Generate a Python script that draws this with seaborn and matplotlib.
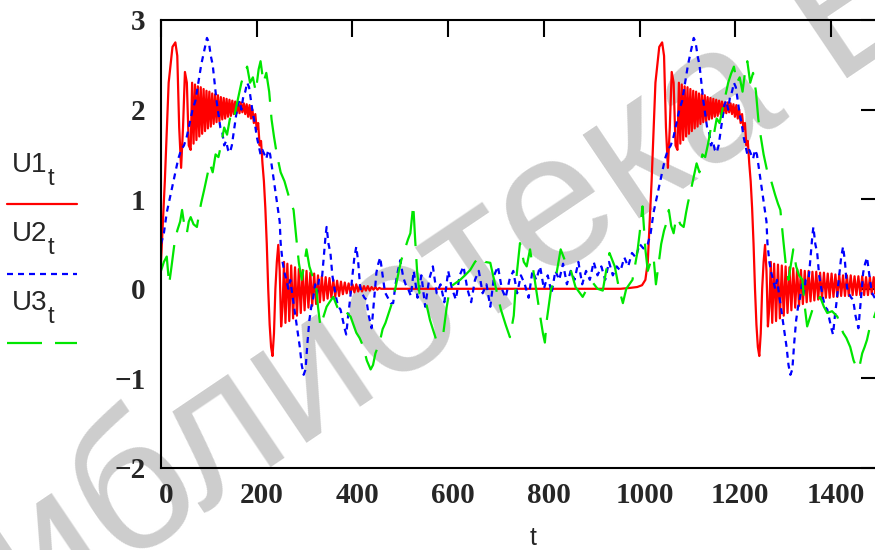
import matplotlib
matplotlib.use("Agg")
import matplotlib.pyplot as plt
from matplotlib.lines import Line2D
from matplotlib.transforms import ScaledTranslation
import pandas as pd
import seaborn as sns

# (t, value) pairs
U1_POINTS = [
    (0, 0.3), (8, 1.2), (16, 2.3), (24, 2.7), (30, 2.75), (34, 2.6), (38, 1.8), (42, 1.35), (46, 1.8),
    (50, 2.42), (54, 2.3), (58, 1.6), (62, 1.55),
    (65, 2.3), (68, 1.62), (71, 2.28), (74, 1.66), (77, 2.26), (80, 1.7), (83, 2.25), (86, 1.73),
    (89, 2.23), (92, 1.76), (95, 2.21), (98, 1.79), (101, 2.2), (104, 1.81), (107, 2.18), (110, 1.84),
    (113, 2.17), (116, 1.86), (119, 2.16), (122, 1.87), (125, 2.14), (128, 1.89), (131, 2.13), (134, 1.9),
    (137, 2.12), (140, 1.92), (143, 2.11), (146, 1.93), (149, 2.1), (152, 1.95), (155, 2.09), (158, 1.96),
    (161, 2.08), (164, 1.96), (167, 2.08), (170, 1.97), (173, 2.07), (176, 1.95), (179, 2.06), (182, 1.92),
    (185, 2.05), (188, 1.9), (191, 2.0), (194, 1.85), (197, 1.95), (200, 1.78), (203, 1.85), (206, 1.6),
    (209, 1.65), (212, 1.4), (215, 1.2), (218, 0.9), (221, 0.5), (224, 0.0), (227, -0.4), (230, -0.65),
    (233, -0.75), (236, -0.5), (239, 0.0), (242, 0.3), (245, 0.49), (248, 0.2), (251, -0.42), (254, -0.2),
    (257, 0.3), (260, -0.38), (264, 0.28), (268, -0.36), (272, 0.26), (276, -0.33), (280, 0.24), (284, -0.3),
    (288, 0.22), (292, -0.27), (296, 0.21), (300, -0.24), (304, 0.2), (308, -0.21), (312, 0.18), (316, -0.19),
    (320, 0.17), (324, -0.17), (328, 0.15), (332, -0.15), (336, 0.14), (340, -0.13), (344, 0.13), (348, -0.11),
    (352, 0.12), (356, -0.1), (360, 0.1), (364, -0.09), (368, 0.09), (372, -0.08), (376, 0.08), (380, -0.06),
    (384, 0.07), (388, -0.05), (392, 0.06), (396, -0.05), (400, 0.05), (404, -0.04), (408, 0.05), (412, -0.03),
    (416, 0.04), (420, -0.03), (424, 0.03), (428, -0.02), (432, 0.03), (436, -0.02), (440, 0.02), (444, -0.01),
    (448, 0.02), (452, -0.01), (456, 0.01), (460, 0.0), (700, 0.0), (960, 0.0), (980, 0.01), (995, 0.02),
    (1005, 0.04), (1012, 0.1),
    (1017, 0.3), (1025, 1.2), (1033, 2.3), (1041, 2.7), (1047, 2.75), (1051, 2.6), (1055, 1.8), (1059, 1.35),
    (1063, 1.8), (1067, 2.42), (1071, 2.3), (1075, 1.6), (1079, 1.55),
    (1082, 2.3), (1085, 1.62), (1088, 2.28), (1091, 1.66), (1094, 2.26), (1097, 1.7), (1100, 2.25), (1103, 1.73),
    (1106, 2.23), (1109, 1.76), (1112, 2.21), (1115, 1.79), (1118, 2.2), (1121, 1.81), (1124, 2.18), (1127, 1.84),
    (1130, 2.17), (1133, 1.86), (1136, 2.16), (1139, 1.87), (1142, 2.14), (1145, 1.89), (1148, 2.13), (1151, 1.9),
    (1154, 2.12), (1157, 1.92), (1160, 2.11), (1163, 1.93), (1166, 2.1), (1169, 1.95), (1172, 2.09), (1175, 1.96),
    (1178, 2.08), (1181, 1.96), (1184, 2.08), (1187, 1.97), (1190, 2.07), (1193, 1.95), (1196, 2.06), (1199, 1.92),
    (1202, 2.05), (1205, 1.9), (1208, 2.0), (1211, 1.85), (1214, 1.95), (1217, 1.78), (1220, 1.85), (1223, 1.6),
    (1226, 1.65), (1229, 1.4), (1232, 1.2), (1235, 0.9), (1238, 0.5), (1241, 0.0), (1244, -0.4), (1247, -0.65),
    (1250, -0.75), (1253, -0.5), (1256, 0.0), (1259, 0.3), (1262, 0.49), (1265, 0.2), (1268, -0.42), (1271, -0.2),
    (1274, 0.3), (1277, -0.38), (1281, 0.28), (1285, -0.36), (1289, 0.27), (1293, -0.33), (1297, 0.26),
    (1301, -0.3), (1305, 0.25), (1309, -0.27), (1313, 0.24), (1317, -0.24), (1321, 0.23), (1325, -0.21),
    (1329, 0.22), (1333, -0.19), (1337, 0.21), (1341, -0.17), (1345, 0.2), (1349, -0.15), (1353, 0.2),
    (1357, -0.14), (1361, 0.19), (1365, -0.13), (1369, 0.19), (1373, -0.12), (1377, 0.18), (1381, -0.11),
    (1385, 0.18), (1389, -0.1), (1393, 0.17), (1397, -0.1), (1401, 0.17), (1405, -0.09), (1409, 0.16),
    (1413, -0.09), (1417, 0.16), (1421, -0.08), (1425, 0.15), (1429, -0.08), (1433, 0.15), (1437, -0.08),
    (1441, 0.15), (1445, -0.07), (1449, 0.14), (1453, -0.07), (1457, 0.14), (1461, -0.07), (1465, 0.14),
    (1469, -0.07), (1473, 0.13), (1477, -0.07), (1481, 0.13), (1485, -0.06), (1489, 0.13), (1493, -0.06),
    (1497, 0.12),
]

U2_POINTS = [
    (0, 0.5), (6, 0.62), (12, 0.85), (18, 1.0), (24, 1.15), (30, 1.3), (36, 1.45), (42, 1.55), (48, 1.6),
    (54, 1.7), (60, 1.85), (66, 2.0), (72, 2.1), (78, 2.3), (84, 2.5), (90, 2.65), (96, 2.8), (100, 2.75),
    (104, 2.6), (108, 2.5), (112, 2.3), (116, 2.1), (120, 1.95), (124, 1.8), (128, 1.75), (132, 1.6),
    (136, 1.65), (140, 1.55), (144, 1.52), (148, 1.6), (152, 1.75), (156, 1.9), (160, 2.05), (164, 2.1),
    (168, 2.0), (172, 2.15), (176, 2.2), (180, 2.3), (184, 2.25), (188, 2.1), (192, 1.95), (196, 1.85),
    (200, 1.7), (204, 1.6), (208, 1.5), (212, 1.55), (216, 1.5), (220, 1.45), (224, 1.55), (228, 1.5),
    (232, 1.35), (236, 1.2), (240, 1.05), (244, 0.9), (248, 0.75), (250, 0.51), (254, 0.3), (258, 0.18),
    (262, 0.1), (266, 0.0), (270, 0.1), (274, -0.05), (278, -0.2), (282, -0.35), (286, -0.5), (290, -0.65),
    (294, -0.85), (298, -0.96), (302, -0.9), (306, -0.6), (310, -0.35), (314, -0.2), (318, -0.1), (322, 0.05),
    (326, -0.05), (330, 0.1), (336, 0.1), (340, 0.35), (344, 0.6), (346, 0.69), (350, 0.5), (354, 0.4),
    (358, 0.15), (362, 0.02), (366, -0.1), (370, -0.2), (375, -0.23), (380, -0.35), (384, -0.45), (387, -0.51),
    (391, -0.3), (395, -0.12), (399, 0.1), (404, 0.35), (408, 0.47), (412, 0.3), (416, 0.02), (420, -0.05),
    (425, -0.1), (429, -0.12), (434, -0.3), (440, -0.44), (444, -0.2), (448, 0.05), (450, 0.18), (454, 0.28),
    (458, 0.35), (463, 0.15), (468, -0.04), (474, -0.1), (480, -0.16), (485, -0.16), (490, 0.05), (495, 0.2),
    (500, 0.32), (506, 0.13), (511, 0.05), (517, -0.01), (522, -0.08),
    (528, 0.2), (536, -0.1), (544, 0.15), (552, -0.2), (560, 0.1), (568, 0.25), (576, -0.05), (584, 0.05),
    (592, -0.15), (600, 0.2), (608, 0.0), (616, -0.12), (624, 0.15), (632, 0.25), (640, 0.0), (648, -0.15),
    (656, 0.1), (664, 0.2), (672, -0.05), (680, 0.05), (688, -0.2), (696, 0.15), (704, 0.25), (712, 0.0),
    (720, -0.1), (728, 0.1), (736, 0.2), (744, -0.05), (752, 0.15), (760, 0.05), (768, -0.1), (776, 0.2),
    (784, 0.1), (792, 0.25), (800, 0.0), (808, 0.15), (816, -0.05), (824, 0.2), (832, 0.1), (840, 0.28),
    (848, 0.05), (856, 0.2), (864, 0.1), (872, 0.3), (880, 0.05), (888, 0.2), (896, 0.1), (904, 0.3),
    (912, 0.15), (920, 0.25), (928, 0.1), (936, 0.3), (944, 0.15), (952, 0.25), (960, 0.2), (968, 0.35),
    (976, 0.25), (984, 0.4), (992, 0.35), (1000, 0.5), (1008, 0.45),
    (1017, 0.5), (1023, 0.62), (1029, 0.85), (1035, 1.0), (1041, 1.15), (1047, 1.3), (1053, 1.45), (1059, 1.55),
    (1065, 1.6), (1071, 1.7), (1077, 1.85), (1083, 2.0), (1089, 2.1), (1095, 2.3), (1101, 2.5), (1107, 2.65),
    (1113, 2.8), (1117, 2.75), (1121, 2.6), (1125, 2.5), (1129, 2.3), (1133, 2.1), (1137, 1.95), (1141, 1.8),
    (1145, 1.75), (1149, 1.6), (1153, 1.65), (1157, 1.55), (1161, 1.52), (1165, 1.6), (1169, 1.75), (1173, 1.9),
    (1177, 2.05), (1181, 2.1), (1185, 2.0), (1189, 2.15), (1193, 2.2), (1197, 2.3), (1201, 2.25), (1205, 2.1),
    (1209, 1.95), (1213, 1.85), (1217, 1.7), (1221, 1.6), (1225, 1.5), (1229, 1.55), (1233, 1.5), (1237, 1.45),
    (1241, 1.55), (1245, 1.5), (1249, 1.35), (1253, 1.2), (1257, 1.05), (1261, 0.9), (1265, 0.75), (1267, 0.51),
    (1271, 0.3), (1275, 0.18), (1279, 0.1), (1283, 0.0), (1287, 0.1), (1291, -0.05), (1295, -0.2), (1299, -0.35),
    (1303, -0.5), (1307, -0.65), (1311, -0.85), (1315, -0.96), (1319, -0.9), (1323, -0.6), (1327, -0.35),
    (1331, -0.2), (1335, -0.1), (1339, 0.05), (1343, -0.05), (1347, 0.1), (1353, 0.1), (1357, 0.35), (1361, 0.6),
    (1363, 0.69), (1367, 0.5), (1371, 0.4), (1375, 0.15), (1379, 0.02), (1383, -0.1), (1387, -0.2),
    (1392, -0.23), (1397, -0.35), (1401, -0.45), (1404, -0.51), (1408, -0.3), (1412, -0.12), (1416, 0.1),
    (1421, 0.35), (1425, 0.47), (1429, 0.3), (1433, 0.02), (1437, -0.05), (1442, -0.1), (1446, -0.12),
    (1451, -0.3), (1457, -0.44), (1461, -0.2), (1465, 0.05), (1467, 0.18), (1471, 0.28), (1475, 0.35),
    (1480, 0.15), (1485, -0.04), (1491, -0.1), (1497, -0.16),
]

U3_POINTS = [
    (0, 0.2), (6, 0.3), (12, 0.36), (17, 0.05), (22, 0.25), (28, 0.5), (34, 0.65), (40, 0.75), (44, 0.88),
    (49, 0.7), (54, 0.62), (58, 0.75), (62, 0.8), (68, 0.72), (75, 0.69), (80, 0.85), (84, 0.96), (90, 1.1),
    (96, 1.25), (102, 1.4), (108, 1.3), (114, 1.5), (120, 1.47), (126, 1.62), (132, 1.8), (138, 1.72),
    (144, 1.9), (150, 1.85), (156, 2.0), (162, 2.15), (168, 2.3), (174, 2.4), (180, 2.48), (186, 2.3),
    (192, 2.36), (198, 2.2), (204, 2.45), (208, 2.54), (214, 2.3), (220, 2.41), (226, 2.2), (231, 1.89),
    (236, 1.7), (242, 1.5), (250, 1.3), (258, 1.2), (266, 1.05), (272, 0.95), (277, 0.88), (283, 0.55),
    (288, 0.29), (294, 0.1), (300, 0.3), (304, 0.44), (310, 0.25), (316, 0.15), (323, 0.1), (328, -0.2),
    (333, -0.42), (340, -0.3), (346, -0.2), (352, -0.15), (360, -0.09), (368, -0.2), (375, -0.27),
    (385, -0.25), (396, -0.31), (402, -0.4), (408, -0.49), (415, -0.55), (423, -0.65), (430, -0.8),
    (438, -0.9), (443, -0.85), (448, -0.72), (453, -0.65), (458, -0.57), (463, -0.45), (469, -0.38),
    (477, -0.25), (485, -0.12), (492, 0.07), (497, 0.2),
    (502, 0.32), (510, 0.45), (516, 0.55), (521, 0.62), (527, 0.94), (531, 0.55), (535, 0.2), (540, -0.05),
    (548, -0.1), (554, -0.16), (562, -0.35), (568, -0.45), (575, -0.57), (583, -0.5), (590, -0.49),
    (597, -0.2), (604, 0.02), (612, 0.05), (625, 0.1), (635, 0.15), (646, 0.21), (656, 0.3), (667, 0.36),
    (677, 0.3), (688, 0.29), (700, 0.0), (710, -0.23), (720, -0.4), (729, -0.54), (737, -0.3), (742, 0.1),
    (750, 0.51), (758, 0.3), (764, 0.25), (771, 0.44), (778, 0.2), (785, -0.05), (792, -0.3), (798, -0.5),
    (802, -0.6), (806, -0.35), (815, 0.0), (825, 0.13), (835, 0.44), (845, 0.3), (854, 0.25), (866, 0.02),
    (881, -0.09), (890, 0.0), (902, 0.07), (912, 0.0), (923, -0.02), (930, 0.2), (937, 0.4), (948, 0.25),
    (957, 0.0), (965, -0.16), (972, 0.0), (985, 0.1), (995, 0.4), (1000, 0.62), (1006, 0.92), (1012, 0.44),
    (1017, 0.2), (1023, 0.3), (1029, 0.36), (1034, 0.05), (1039, 0.25), (1045, 0.5), (1051, 0.65), (1057, 0.75),
    (1061, 0.88), (1066, 0.7), (1071, 0.62), (1075, 0.75), (1079, 0.8), (1085, 0.72), (1092, 0.69), (1097, 0.85),
    (1101, 0.96), (1107, 1.1), (1113, 1.25), (1119, 1.4), (1125, 1.3), (1131, 1.5), (1137, 1.47), (1143, 1.62),
    (1149, 1.8), (1155, 1.72), (1161, 1.9), (1167, 1.85), (1173, 2.0), (1179, 2.15), (1185, 2.3), (1191, 2.4),
    (1197, 2.48), (1203, 2.3), (1209, 2.36), (1215, 2.2), (1221, 2.45), (1225, 2.54), (1231, 2.3), (1237, 2.41),
    (1243, 2.2), (1248, 1.89), (1253, 1.7), (1259, 1.5), (1267, 1.3), (1275, 1.2), (1283, 1.05), (1289, 0.95),
    (1294, 0.88), (1300, 0.55), (1305, 0.29), (1311, 0.1), (1317, 0.3), (1321, 0.44), (1327, 0.25),
    (1333, 0.15), (1340, 0.1), (1345, -0.2), (1350, -0.42), (1357, -0.3), (1363, -0.2), (1369, -0.15),
    (1377, -0.09), (1385, -0.2), (1392, -0.27), (1402, -0.25), (1413, -0.31), (1419, -0.4), (1425, -0.49),
    (1432, -0.55), (1440, -0.65), (1447, -0.8), (1455, -0.9), (1460, -0.85), (1465, -0.72), (1470, -0.65),
    (1475, -0.57), (1480, -0.45), (1486, -0.38), (1494, -0.25), (1498, -0.15),
]

SERIES_NAMES = ["U1", "U2", "U3"]
SERIES_COLORS = ["#ff0000", "#0000ff", "#00e600"]
SERIES_DASHES = ["-", (0, (2.7, 2.25)), (0, (15.75, 5.85))]

X_TICKS = [0, 200, 400, 600, 800, 1000, 1200, 1400]
Y_TICKS = [-2, -1, 0, 1, 2, 3]

sns.set_style("white")
plt.rcParams["font.family"] = ["Liberation Sans", "DejaVu Sans"]

fig = plt.figure(figsize=(8.75, 5.5), dpi=100)
ax = fig.add_axes([161 / 875, 82 / 550, 717 / 875, 448 / 550])
ax.patch.set_alpha(0)

# library watermark behind everything, partly outside the picture like the scan
fig.text(-60 / 875, 1 - 690 / 550, "библиотека БГУИР", rotation=34, rotation_mode="anchor",
         ha="left", va="baseline", fontsize=138, color="#cdcdcd",
         family="Liberation Sans", zorder=-1)

all_series = [U1_POINTS, U2_POINTS, U3_POINTS]
for name, pts, color, ls in zip(SERIES_NAMES, all_series, SERIES_COLORS, SERIES_DASHES):
    df = pd.DataFrame(pts, columns=["t", name])
    sns.lineplot(data=df, x="t", y=name, ax=ax, color=color, linewidth=1.6,
                 linestyle=ls, estimator=None, sort=False)

ax.set_xlim(4, 1498)
ax.set_ylim(-2, 3)
ax.set_xticks(X_TICKS)
ax.set_yticks(Y_TICKS)
ax.set_xlabel("")
ax.set_ylabel("")
for side in ["left", "right", "top", "bottom"]:
    ax.spines[side].set_visible(True)
    ax.spines[side].set_linewidth(1.5)
    ax.spines[side].set_color("black")
ax.tick_params(direction="in", length=12, width=1.5, top=True, right=True, color="black")
ax.tick_params(axis="y", pad=11)
ax.tick_params(axis="x", pad=10)
shift = ScaledTranslation(5 / 100, 0, fig.dpi_scale_trans)
for lab in ax.get_xticklabels():
    lab.set_transform(lab.get_transform() + shift)
for lab in ax.get_xticklabels() + ax.get_yticklabels():
    lab.set_family("Liberation Serif")
    lab.set_fontweight("bold")
    lab.set_fontsize(21)

fig.text(533 / 875, 1 - 538 / 550, "t", ha="center", va="center", fontsize=18)

# Mathcad style legend stacked on the left: name, subscript t, then a line sample
legend_baselines = [172, 241, 310]
legend_lines = [204, 274, 343]
for name, color, ls, yb, yl in zip(SERIES_NAMES, SERIES_COLORS, SERIES_DASHES, legend_baselines, legend_lines):
    fig.text(12 / 875, 1 - yb / 550, name, fontsize=20, ha="left", va="baseline")
    fig.text(48 / 875, 1 - (yb + 13) / 550, "t", fontsize=17, ha="left", va="baseline")
    fig.add_artist(Line2D([7 / 875, 77 / 875], [1 - yl / 550] * 2, color=color,
                          linewidth=1.6, linestyle=ls, transform=fig.transFigure))

fig.savefig("out.png", dpi=100)
